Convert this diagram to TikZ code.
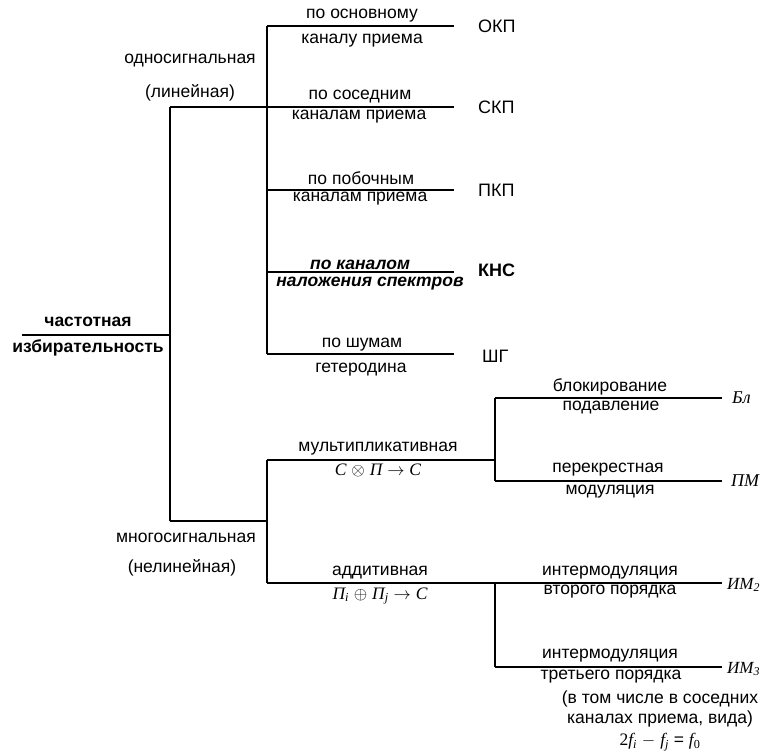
\documentclass[tikz,border=0pt]{standalone}
\usepackage{fontspec}
\setmainfont{Liberation Sans}
\newfontfamily\tmsfont{Liberation Serif}
\usetikzlibrary{positioning}

\newcommand{\sym}[1]{{\tmsfont\itshape #1}}

\begin{document}
\begin{tikzpicture}[x=1pt,y=-1pt]
        \tikzstyle{every node}=[inner sep=0pt, font=\fontsize{17.5}{20}\selectfont]
        \tikzstyle{branch}=[line width=1.6pt]
        \tikzstyle{bold}=[font=\fontsize{17.5}{20}\selectfont\bfseries]
        \tikzstyle{boldit}=[font=\fontsize{17.5}{20}\selectfont\bfseries\itshape]
        \tikzstyle{endlabel}=[font=\fontsize{18}{20}\selectfont, anchor=west]
        \useasboundingbox (0,0) rectangle (762,753);
        % branch points
        \coordinate (root) at (22,335);
        \coordinate (fork) at (170,335);
        \coordinate (lin) at (170,107);
        \coordinate (nlin) at (170,521);
        \coordinate (okp) at (267,26);
        \coordinate (skp) at (267,107);
        \coordinate (pkp) at (267,190);
        \coordinate (kns) at (267,272);
        \coordinate (shg) at (267,354);
        \coordinate (okpE) at (454,26);
        \coordinate (skpE) at (454,107);
        \coordinate (pkpE) at (454,190);
        \coordinate (knsE) at (454,272);
        \coordinate (shgE) at (454,354);
        \coordinate (mul) at (267,460);
        \coordinate (add) at (267,583);
        \coordinate (mulE) at (495,460);
        \coordinate (bl) at (495,398);
        \coordinate (pm) at (495,481);
        \coordinate (im2) at (495,583);
        \coordinate (im3) at (495,667);
        \coordinate (blE) at (722,398);
        \coordinate (pmE) at (722,481);
        \coordinate (im2E) at (722,583);
        \coordinate (im3E) at (722,667);
        % lines
        \draw[branch] (root) -- (fork);
        \draw[branch] (lin) -- (nlin);
        \draw[branch] (lin) -- (skp);
        \draw[branch] (nlin) -- (nlin -| mul);
        \draw[branch] (okp) -- (shg);
        \foreach \b in {okp,skp,pkp,kns,shg} \draw[branch] (\b) -- (\b E);
        \draw[branch] (mul) -- (add);
        \draw[branch] (mul) -- (mulE);
        \draw[branch] (bl) -- (pm);
        \draw[branch] (bl) -- (blE);
        \draw[branch] (pm) -- (pmE);
        \draw[branch] (add) -- (im2E);
        \draw[branch] (im2) -- (im3);
        \draw[branch] (im3) -- (im3E);
        % root
        \node[bold] (chast) at (88,322) {частотная};
        \node[bold] (izbir) at (88,348) {избирательность};
        \node (odno) at (190,61) {односигнальная};
        \node (odno2) at (190,93) {(линейная)};
        \node (mnogo) at (186,538) {многосигнальная};
        \node (mnogo2) at (182,568) {(нелинейная)};
        % single-signal
        \node (okp1) at (362,16) {по основному};
        \node (okp2) at (362,41) {каналу приема};
        \node[endlabel] (okpL) at (478,26) {ОКП};
        \node (skp1) at (360,97) {по соседним};
        \node (skp2) at (359,117) {каналам приема};
        \node[endlabel] (skpL) at (478,107) {СКП};
        \node (pkp1) at (361,178) {по побочным};
        \node (pkp2) at (360,199) {каналам приема};
        \node[endlabel] (pkpL) at (478,190) {ПКП};
        \node[boldit] (kns1) at (360,265) {по каналом};
        \node[boldit] (kns2) at (370,284) {наложения спектров};
        \node[endlabel, font=\fontsize{18}{20}\selectfont\bfseries] (knsL) at (478,270) {КНС};
        \node (shg1) at (362,345) {по шумам};
        \node (shg2) at (361,370) {гетеродина};
        \node[endlabel] (shgL) at (482,356) {ШГ};
        % multi-signal
        \node (mul1) at (378,449) {мультипликативная};
        \node (mul2) at (378,470) {\sym{C} $\otimes$ \sym{П} $\to$ \sym{C}};
        \node (bl1) at (610,387) {блокирование};
        \node (bl2) at (611,408) {подавление};
        \node[endlabel] (blL) at (732,398) {\sym{Бл}};
        \node (pm1) at (608,470) {перекрестная};
        \node (pm2) at (610,492) {модуляция};
        \node[endlabel] (pmL) at (731,481) {\sym{ПМ}};
        \node (add1) at (380,573) {аддитивная};
        \node (add2) at (380,596) {\sym{П\textsubscript{i}} $\oplus$ \sym{П\textsubscript{j}} $\to$ \sym{C}};
        \node (im21) at (610,573) {интермодуляция};
        \node (im22) at (610,592) {второго порядка};
        \node[endlabel, font=\fontsize{17}{20}\selectfont] (im2L) at (727,585) {\sym{ИМ\textsubscript{2}}};
        \node (im31) at (610,656) {интермодуляция};
        \node (im32) at (611,677) {третьего порядка};
        \node[endlabel, font=\fontsize{17}{20}\selectfont] (im3L) at (727,669) {\sym{ИМ\textsubscript{3}}};
        \node (im33) at (660,699) {(в том числе в соседних};
        \node (im34) at (660,719) {каналах приема, вида)};
        \node (im35) at (660,742) {{\tmsfont 2}\sym{f\textsubscript{i}} $-$ \sym{f\textsubscript{j}} = \sym{f}{\tmsfont\textsubscript{0}}};
\end{tikzpicture}
\end{document}
